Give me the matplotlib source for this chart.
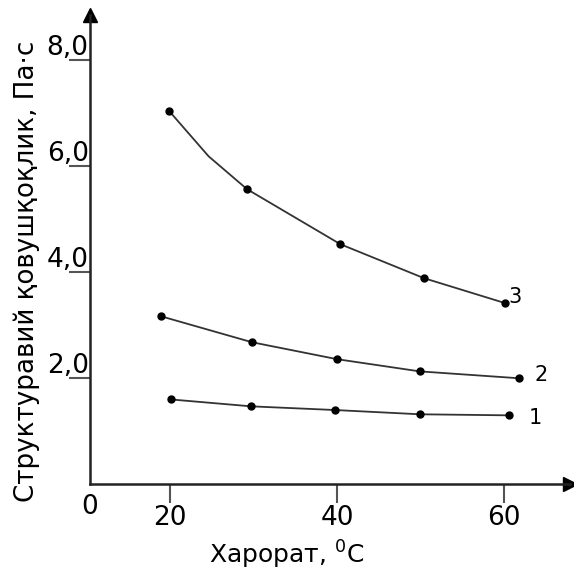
import matplotlib
matplotlib.use('Agg')
import matplotlib.pyplot as plt
import matplotlib.transforms as mtransforms

# Данные кривых (температура, вязкость)
t1 = [20.1, 29.7, 39.8, 49.9, 60.6]
v1 = [1.60, 1.47, 1.40, 1.32, 1.30]

t2 = [18.9, 29.8, 40.0, 49.9, 61.8]
v2 = [3.17, 2.68, 2.36, 2.13, 2.00]

# кривая 3: излом на 24.6 без маркера
t3 = [19.9, 24.6, 29.2, 40.4, 50.4, 60.1]
v3 = [7.04, 6.19, 5.57, 4.53, 3.89, 3.42]
marks3 = [0, 2, 3, 4, 5]

curve_labels = ['1', '2', '3']
x_ticks = [20, 40, 60]
y_ticks = [2.0, 4.0, 6.0, 8.0]
y_tick_labels = ['2,0', '4,0', '6,0', '8,0']

xmin, xmax = 10.4, 67.9
ymin, ymax = 0.0, 8.85

fig = plt.figure(figsize=(5.74, 5.71), dpi=100)
ax = fig.add_axes([0.157, 0.152, 0.836, 0.821])

line_kw = dict(color='#333333', lw=1.3, marker='o', ms=5,
               markerfacecolor='black', markeredgecolor='black')
ax.plot(t1, v1, **line_kw)
ax.plot(t2, v2, **line_kw)
ax.plot(t3, v3, markevery=marks3, **line_kw)

# номера кривых
ax.text(t1[-1] + 2.3, v1[-1] - 0.05, curve_labels[0], fontsize=15, va='center', ha='left')
ax.text(t2[-1] + 1.9, v2[-1] + 0.07, curve_labels[1], fontsize=15, va='center', ha='left')
ax.text(t3[-1] + 0.4, v3[-1] + 0.12, curve_labels[2], fontsize=15, va='center', ha='left')

ax.set_xlim(xmin, xmax)
ax.set_ylim(ymin, ymax)

for s in ['top', 'right']:
    ax.spines[s].set_visible(False)
for s in ['left', 'bottom']:
    ax.spines[s].set_linewidth(1.8)
    ax.spines[s].set_color('#222222')

# стрелки на осях
ax.plot(1, 0, '>', color='black', ms=10, transform=ax.transAxes, clip_on=False)
ax.plot(0, 1, '^', color='black', ms=10, transform=ax.transAxes, clip_on=False)

ax.set_xticks(x_ticks)
ax.set_xticklabels([str(x) for x in x_ticks], fontsize=19)
ax.tick_params(axis='x', direction='out', length=14, width=1.5, color='#555555', pad=1)

ax.set_yticks(y_ticks)
ax.set_yticklabels([])
ax.tick_params(axis='y', direction='out', length=15, width=1.5, color='#555555')
off = mtransforms.ScaledTranslation(-1 / 72, 4 / 72, fig.dpi_scale_trans)
for y, lab in zip(y_ticks, y_tick_labels):
    ax.text(xmin, y, lab, fontsize=19, ha='right', va='baseline',
            transform=ax.transData + off)

# ноль в начале координат
ax.text(xmin, 0, '0', fontsize=19, ha='center', va='top',
        transform=ax.transData + mtransforms.ScaledTranslation(0, -7 / 72, fig.dpi_scale_trans))

fig.text(287 / 574, 1 - 555 / 571, 'Харорат, $^{0}$C', fontsize=18,
         ha='center', va='center')
fig.text(27 / 574, 1 - 271 / 571, 'Структуравий қовушқоқлик, Па·с', fontsize=18.8,
         rotation=90, ha='center', va='center')

fig.savefig('out.png', dpi=100)
